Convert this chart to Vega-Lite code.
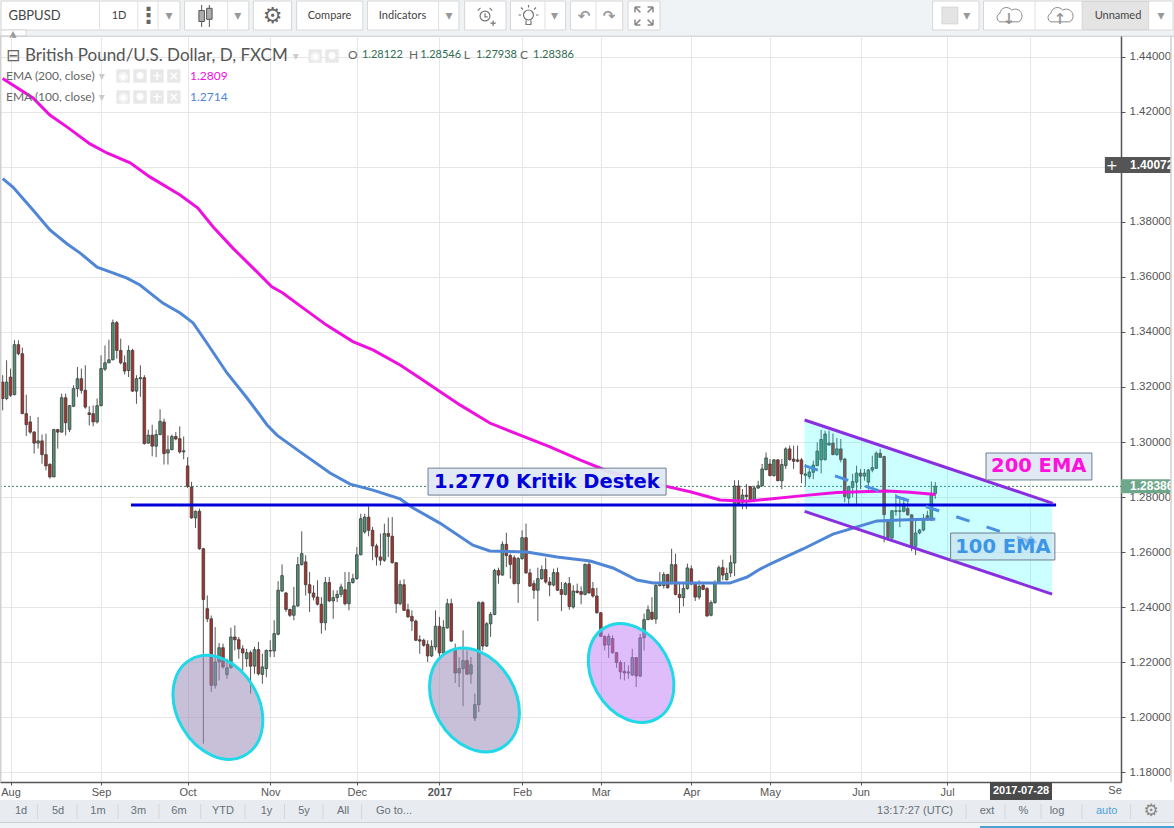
{"$schema":"https://vega.github.io/schema/vega-lite/v6.json","padding":{"left":-4,"top":0,"right":0,"bottom":0},"spacing":0,"bounds":"flush","background":"#ffffff","config":{"view":{"stroke":null},"concat":{"spacing":0},"text":{"font":"Liberation Sans"}},
"datasets":{
"candles":[
{"bar":0,"o":1.3218,"h":1.3243,"l":1.3115,"c":1.3158},{"bar":1,"o":1.3158,"h":1.3297,"l":1.3152,"c":1.3218},{"bar":2,"o":1.3236,"h":1.3267,"l":1.3164,"c":1.317},{"bar":3,"o":1.3172,"h":1.337,"l":1.317,"c":1.3354},{"bar":4,"o":1.3354,"h":1.337,"l":1.3315,"c":1.3321},{"bar":5,"o":1.3321,"h":1.3343,"l":1.3103,"c":1.3103},{"bar":6,"o":1.3103,"h":1.3172,"l":1.3022,"c":1.3063},{"bar":7,"o":1.3073,"h":1.3095,"l":1.303,"c":1.3036},{"bar":8,"o":1.3036,"h":1.304,"l":1.2958,"c":1.2996},{"bar":9,"o":1.2996,"h":1.3091,"l":1.2976,"c":1.3004},
{"bar":10,"o":1.3004,"h":1.3027,"l":1.2921,"c":1.2954},{"bar":11,"o":1.2954,"h":1.303,"l":1.2897,"c":1.2913},{"bar":12,"o":1.2919,"h":1.2922,"l":1.2867,"c":1.2873},{"bar":13,"o":1.2873,"h":1.3048,"l":1.2873,"c":1.3045},{"bar":14,"o":1.3045,"h":1.3048,"l":1.2976,"c":1.3036},{"bar":15,"o":1.3036,"h":1.3176,"l":1.3034,"c":1.3161},{"bar":16,"o":1.3161,"h":1.3176,"l":1.3024,"c":1.307},{"bar":17,"o":1.3046,"h":1.3135,"l":1.3036,"c":1.3132},{"bar":18,"o":1.313,"h":1.3206,"l":1.3127,"c":1.3194},{"bar":19,"o":1.3194,"h":1.3273,"l":1.3164,"c":1.323},
{"bar":20,"o":1.323,"h":1.3267,"l":1.3176,"c":1.3188},{"bar":21,"o":1.3188,"h":1.3279,"l":1.3121,"c":1.3127},{"bar":22,"o":1.3106,"h":1.313,"l":1.306,"c":1.31},{"bar":23,"o":1.3103,"h":1.3133,"l":1.3057,"c":1.3073},{"bar":24,"o":1.3073,"h":1.3158,"l":1.3067,"c":1.3132},{"bar":25,"o":1.3132,"h":1.3315,"l":1.313,"c":1.3267},{"bar":26,"o":1.3265,"h":1.3351,"l":1.3258,"c":1.3288},{"bar":27,"o":1.3288,"h":1.3372,"l":1.3287,"c":1.3299},{"bar":28,"o":1.3299,"h":1.3445,"l":1.3297,"c":1.3434},{"bar":29,"o":1.3434,"h":1.344,"l":1.3303,"c":1.3333},
{"bar":30,"o":1.3333,"h":1.3376,"l":1.3282,"c":1.3288},{"bar":31,"o":1.3288,"h":1.3315,"l":1.3246,"c":1.3258},{"bar":32,"o":1.326,"h":1.3351,"l":1.3236,"c":1.3333},{"bar":33,"o":1.3333,"h":1.3339,"l":1.3182,"c":1.3185},{"bar":34,"o":1.3185,"h":1.3243,"l":1.3139,"c":1.323},{"bar":35,"o":1.323,"h":1.3279,"l":1.3164,"c":1.3234},{"bar":36,"o":1.3234,"h":1.3243,"l":1.2991,"c":1.2994},{"bar":37,"o":1.2996,"h":1.3045,"l":1.2994,"c":1.3025},{"bar":38,"o":1.3025,"h":1.3063,"l":1.2948,"c":1.2985},{"bar":39,"o":1.2985,"h":1.3045,"l":1.2945,"c":1.3027},
{"bar":40,"o":1.3027,"h":1.3119,"l":1.3024,"c":1.3075},{"bar":41,"o":1.3073,"h":1.3085,"l":1.2918,"c":1.2958},{"bar":42,"o":1.296,"h":1.3024,"l":1.2918,"c":1.2972},{"bar":43,"o":1.2972,"h":1.3027,"l":1.297,"c":1.302},{"bar":44,"o":1.302,"h":1.3036,"l":1.3006,"c":1.3011},{"bar":45,"o":1.3012,"h":1.3057,"l":1.2958,"c":1.2964},{"bar":46,"o":1.2964,"h":1.302,"l":1.2937,"c":1.2968},{"bar":47,"o":1.2913,"h":1.2945,"l":1.2833,"c":1.2839},{"bar":48,"o":1.2836,"h":1.2855,"l":1.2721,"c":1.2724},{"bar":49,"o":1.2724,"h":1.2751,"l":1.2687,"c":1.2748},
{"bar":50,"o":1.2748,"h":1.2758,"l":1.2608,"c":1.2612},{"bar":51,"o":1.2612,"h":1.2615,"l":1.1903,"c":1.2427},{"bar":52,"o":1.2394,"h":1.2442,"l":1.2345,"c":1.2357},{"bar":53,"o":1.2357,"h":1.2369,"l":1.2091,"c":1.2115},{"bar":54,"o":1.2115,"h":1.2327,"l":1.2103,"c":1.22},{"bar":55,"o":1.22,"h":1.2269,"l":1.2133,"c":1.2252},{"bar":56,"o":1.2252,"h":1.2267,"l":1.2176,"c":1.2182},{"bar":57,"o":1.2154,"h":1.2212,"l":1.2139,"c":1.2179},{"bar":58,"o":1.2179,"h":1.2325,"l":1.2176,"c":1.2291},{"bar":59,"o":1.2291,"h":1.2333,"l":1.2242,"c":1.2281},
{"bar":60,"o":1.2281,"h":1.2291,"l":1.2212,"c":1.2248},{"bar":61,"o":1.2248,"h":1.2261,"l":1.217,"c":1.2233},{"bar":62,"o":1.2212,"h":1.2248,"l":1.2182,"c":1.2234},{"bar":63,"o":1.2234,"h":1.2242,"l":1.2085,"c":1.2185},{"bar":64,"o":1.2185,"h":1.2255,"l":1.2157,"c":1.2245},{"bar":65,"o":1.2245,"h":1.2273,"l":1.2151,"c":1.2157},{"bar":66,"o":1.2155,"h":1.223,"l":1.2121,"c":1.2182},{"bar":67,"o":1.2176,"h":1.2245,"l":1.2145,"c":1.2242},{"bar":68,"o":1.224,"h":1.2279,"l":1.2218,"c":1.2242},{"bar":69,"o":1.224,"h":1.2352,"l":1.2218,"c":1.2303},
{"bar":70,"o":1.2301,"h":1.2494,"l":1.2297,"c":1.2461},{"bar":71,"o":1.2458,"h":1.2555,"l":1.2455,"c":1.2514},{"bar":72,"o":1.2451,"h":1.2455,"l":1.2382,"c":1.2391},{"bar":73,"o":1.2391,"h":1.2394,"l":1.2364,"c":1.237},{"bar":74,"o":1.237,"h":1.2473,"l":1.2352,"c":1.2404},{"bar":75,"o":1.2404,"h":1.2582,"l":1.24,"c":1.2554},{"bar":76,"o":1.2554,"h":1.2675,"l":1.2551,"c":1.2594},{"bar":77,"o":1.2564,"h":1.2588,"l":1.2442,"c":1.2481},{"bar":78,"o":1.2481,"h":1.2527,"l":1.2382,"c":1.2451},{"bar":79,"o":1.2451,"h":1.2479,"l":1.2424,"c":1.2436},
{"bar":80,"o":1.2436,"h":1.2497,"l":1.2406,"c":1.241},{"bar":81,"o":1.241,"h":1.2436,"l":1.2303,"c":1.2343},{"bar":82,"o":1.2343,"h":1.2509,"l":1.2315,"c":1.2489},{"bar":83,"o":1.2489,"h":1.2509,"l":1.2418,"c":1.2422},{"bar":84,"o":1.2422,"h":1.2461,"l":1.2357,"c":1.2434},{"bar":85,"o":1.2434,"h":1.2461,"l":1.2418,"c":1.2446},{"bar":86,"o":1.2446,"h":1.2485,"l":1.2436,"c":1.2473},{"bar":87,"o":1.2463,"h":1.2527,"l":1.2406,"c":1.2412},{"bar":88,"o":1.2412,"h":1.2527,"l":1.2388,"c":1.2489},{"bar":89,"o":1.2489,"h":1.2521,"l":1.2485,"c":1.2503},
{"bar":90,"o":1.2503,"h":1.2618,"l":1.2499,"c":1.259},{"bar":91,"o":1.259,"h":1.2739,"l":1.2588,"c":1.2721},{"bar":92,"o":1.2673,"h":1.2739,"l":1.2667,"c":1.2727},{"bar":93,"o":1.2727,"h":1.2766,"l":1.2657,"c":1.2679},{"bar":94,"o":1.2679,"h":1.2691,"l":1.257,"c":1.2622},{"bar":95,"o":1.2622,"h":1.263,"l":1.2551,"c":1.2582},{"bar":96,"o":1.2582,"h":1.2667,"l":1.2551,"c":1.257},{"bar":97,"o":1.257,"h":1.2703,"l":1.2564,"c":1.2667},{"bar":98,"o":1.2667,"h":1.2725,"l":1.2582,"c":1.2657},{"bar":99,"o":1.2657,"h":1.2727,"l":1.2558,"c":1.2561},
{"bar":100,"o":1.2561,"h":1.2564,"l":1.2378,"c":1.2412},{"bar":101,"o":1.2412,"h":1.2497,"l":1.2406,"c":1.2482},{"bar":102,"o":1.2481,"h":1.2501,"l":1.2385,"c":1.2388},{"bar":103,"o":1.239,"h":1.2412,"l":1.2361,"c":1.2364},{"bar":104,"o":1.2366,"h":1.2388,"l":1.2313,"c":1.2349},{"bar":105,"o":1.2349,"h":1.2354,"l":1.2276,"c":1.2279},{"bar":106,"o":1.2281,"h":1.2297,"l":1.223,"c":1.2276},{"bar":107,"o":1.2279,"h":1.2285,"l":1.2255,"c":1.2261},{"bar":108,"o":1.2264,"h":1.2279,"l":1.22,"c":1.2222},{"bar":109,"o":1.2222,"h":1.2279,"l":1.2218,"c":1.2257},
{"bar":110,"o":1.2255,"h":1.2388,"l":1.2242,"c":1.233},{"bar":111,"o":1.233,"h":1.2364,"l":1.2218,"c":1.2233},{"bar":112,"o":1.2233,"h":1.2352,"l":1.223,"c":1.2326},{"bar":113,"o":1.2324,"h":1.243,"l":1.2321,"c":1.2412},{"bar":114,"o":1.2412,"h":1.243,"l":1.2273,"c":1.2276},{"bar":115,"o":1.2248,"h":1.2267,"l":1.2124,"c":1.216},{"bar":116,"o":1.216,"h":1.2218,"l":1.2109,"c":1.2176},{"bar":117,"o":1.2176,"h":1.2315,"l":1.2039,"c":1.2205},{"bar":118,"o":1.2205,"h":1.2242,"l":1.2152,"c":1.2156},{"bar":119,"o":1.2156,"h":1.2218,"l":1.2121,"c":1.219},
{"bar":120,"o":1.1996,"h":1.2085,"l":1.1985,"c":1.2045},{"bar":121,"o":1.2045,"h":1.2421,"l":1.2018,"c":1.2416},{"bar":122,"o":1.2416,"h":1.2421,"l":1.2242,"c":1.2258},{"bar":123,"o":1.2258,"h":1.2345,"l":1.2255,"c":1.2339},{"bar":124,"o":1.2339,"h":1.2382,"l":1.2291,"c":1.2373},{"bar":125,"o":1.2373,"h":1.2539,"l":1.237,"c":1.2533},{"bar":126,"o":1.2533,"h":1.2543,"l":1.2485,"c":1.2516},{"bar":127,"o":1.2516,"h":1.2639,"l":1.2515,"c":1.2628},{"bar":128,"o":1.2628,"h":1.267,"l":1.2545,"c":1.2587},{"bar":129,"o":1.2587,"h":1.2594,"l":1.2503,"c":1.2555},
{"bar":130,"o":1.2579,"h":1.2588,"l":1.2482,"c":1.2485},{"bar":131,"o":1.2485,"h":1.2582,"l":1.2415,"c":1.2576},{"bar":132,"o":1.2576,"h":1.2679,"l":1.2572,"c":1.2652},{"bar":133,"o":1.2652,"h":1.2703,"l":1.2521,"c":1.2524},{"bar":134,"o":1.2524,"h":1.2539,"l":1.2473,"c":1.2476},{"bar":135,"o":1.2485,"h":1.2497,"l":1.243,"c":1.2461},{"bar":136,"o":1.2461,"h":1.2543,"l":1.2349,"c":1.2503},{"bar":137,"o":1.2503,"h":1.2551,"l":1.2499,"c":1.2536},{"bar":138,"o":1.2536,"h":1.2579,"l":1.2485,"c":1.2491},{"bar":139,"o":1.2491,"h":1.2509,"l":1.2439,"c":1.248},
{"bar":140,"o":1.248,"h":1.2539,"l":1.2475,"c":1.2525},{"bar":141,"o":1.2525,"h":1.2543,"l":1.2458,"c":1.2461},{"bar":142,"o":1.2463,"h":1.2491,"l":1.2385,"c":1.2446},{"bar":143,"o":1.2446,"h":1.2491,"l":1.2442,"c":1.2485},{"bar":144,"o":1.2485,"h":1.2509,"l":1.239,"c":1.2402},{"bar":145,"o":1.24,"h":1.2479,"l":1.2394,"c":1.2458},{"bar":146,"o":1.2458,"h":1.2485,"l":1.2449,"c":1.2453},{"bar":147,"o":1.2456,"h":1.2475,"l":1.241,"c":1.2446},{"bar":148,"o":1.2446,"h":1.2558,"l":1.2442,"c":1.2555},{"bar":149,"o":1.2555,"h":1.257,"l":1.2449,"c":1.2451},
{"bar":150,"o":1.2467,"h":1.2491,"l":1.2434,"c":1.244},{"bar":151,"o":1.244,"h":1.247,"l":1.2376,"c":1.2379},{"bar":152,"o":1.2379,"h":1.2382,"l":1.2291,"c":1.2293},{"bar":153,"o":1.2293,"h":1.2297,"l":1.2242,"c":1.2261},{"bar":154,"o":1.2262,"h":1.2303,"l":1.2215,"c":1.2293},{"bar":155,"o":1.2285,"h":1.2297,"l":1.223,"c":1.2234},{"bar":156,"o":1.2234,"h":1.2236,"l":1.2179,"c":1.2198},{"bar":157,"o":1.2198,"h":1.2206,"l":1.2137,"c":1.2164},{"bar":158,"o":1.2166,"h":1.22,"l":1.2133,"c":1.216},{"bar":159,"o":1.216,"h":1.2188,"l":1.2139,"c":1.2164},
{"bar":160,"o":1.2153,"h":1.2248,"l":1.2149,"c":1.2216},{"bar":161,"o":1.2216,"h":1.2218,"l":1.2109,"c":1.2149},{"bar":162,"o":1.2149,"h":1.2303,"l":1.2145,"c":1.2288},{"bar":163,"o":1.2288,"h":1.2376,"l":1.2242,"c":1.2354},{"bar":164,"o":1.2354,"h":1.2406,"l":1.2352,"c":1.239},{"bar":165,"o":1.2381,"h":1.2436,"l":1.2352,"c":1.2356},{"bar":166,"o":1.2356,"h":1.2491,"l":1.2339,"c":1.2478},{"bar":167,"o":1.2478,"h":1.2527,"l":1.2475,"c":1.2481},{"bar":168,"o":1.2478,"h":1.2527,"l":1.2467,"c":1.2518},{"bar":169,"o":1.2518,"h":1.2521,"l":1.2467,"c":1.247},
{"bar":170,"o":1.2485,"h":1.2612,"l":1.2482,"c":1.2554},{"bar":171,"o":1.2554,"h":1.2594,"l":1.2442,"c":1.2446},{"bar":172,"o":1.2446,"h":1.2485,"l":1.2378,"c":1.2434},{"bar":173,"o":1.2434,"h":1.2485,"l":1.2402,"c":1.2467},{"bar":174,"o":1.2467,"h":1.2558,"l":1.2463,"c":1.2542},{"bar":175,"o":1.2539,"h":1.2551,"l":1.2479,"c":1.2484},{"bar":176,"o":1.2484,"h":1.2491,"l":1.2422,"c":1.2436},{"bar":177,"o":1.2436,"h":1.2497,"l":1.2427,"c":1.2475},{"bar":178,"o":1.2479,"h":1.2485,"l":1.2461,"c":1.2464},{"bar":179,"o":1.2467,"h":1.2473,"l":1.2366,"c":1.2367},
{"bar":180,"o":1.237,"h":1.2424,"l":1.2366,"c":1.2416},{"bar":181,"o":1.2416,"h":1.2497,"l":1.2412,"c":1.2488},{"bar":182,"o":1.2488,"h":1.2551,"l":1.2485,"c":1.2543},{"bar":183,"o":1.2543,"h":1.2572,"l":1.2497,"c":1.2516},{"bar":184,"o":1.2499,"h":1.2543,"l":1.2497,"c":1.2522},{"bar":185,"o":1.2524,"h":1.2588,"l":1.2509,"c":1.2561},{"bar":186,"o":1.256,"h":1.2861,"l":1.2512,"c":1.284},{"bar":187,"o":1.284,"h":1.2861,"l":1.2773,"c":1.2776},{"bar":188,"o":1.2781,"h":1.2829,"l":1.2756,"c":1.2807},{"bar":189,"o":1.2807,"h":1.2847,"l":1.2756,"c":1.2802},
{"bar":190,"o":1.2838,"h":1.284,"l":1.2784,"c":1.2787},{"bar":191,"o":1.2787,"h":1.2841,"l":1.2781,"c":1.2833},{"bar":192,"o":1.2833,"h":1.2859,"l":1.2829,"c":1.2841},{"bar":193,"o":1.2841,"h":1.292,"l":1.2839,"c":1.2902},{"bar":194,"o":1.2899,"h":1.2962,"l":1.2898,"c":1.2942},{"bar":195,"o":1.292,"h":1.2938,"l":1.2875,"c":1.2878},{"bar":196,"o":1.2878,"h":1.2938,"l":1.2874,"c":1.2935},{"bar":197,"o":1.2935,"h":1.2938,"l":1.2858,"c":1.2859},{"bar":198,"o":1.2859,"h":1.2938,"l":1.2829,"c":1.2918},{"bar":199,"o":1.2914,"h":1.2981,"l":1.2902,"c":1.2975},
{"bar":200,"o":1.2975,"h":1.2987,"l":1.2932,"c":1.2936},{"bar":201,"o":1.2938,"h":1.2987,"l":1.2902,"c":1.293},{"bar":202,"o":1.2935,"h":1.2987,"l":1.2926,"c":1.293},{"bar":203,"o":1.2935,"h":1.2942,"l":1.285,"c":1.2884},{"bar":204,"o":1.2879,"h":1.292,"l":1.2841,"c":1.2884},{"bar":205,"o":1.2874,"h":1.2902,"l":1.2865,"c":1.2891},{"bar":206,"o":1.289,"h":1.2932,"l":1.2865,"c":1.2916},{"bar":207,"o":1.2914,"h":1.2999,"l":1.2912,"c":1.2967},{"bar":208,"o":1.2935,"h":1.3044,"l":1.2886,"c":1.3009},{"bar":209,"o":1.2936,"h":1.3041,"l":1.2932,"c":1.3029},
{"bar":210,"o":1.2989,"h":1.3041,"l":1.2987,"c":1.2996},{"bar":211,"o":1.2996,"h":1.3031,"l":1.2952,"c":1.2954},{"bar":212,"o":1.2954,"h":1.3015,"l":1.295,"c":1.2975},{"bar":213,"o":1.2975,"h":1.3011,"l":1.2926,"c":1.2936},{"bar":214,"o":1.2938,"h":1.2942,"l":1.2781,"c":1.2802},{"bar":215,"o":1.2796,"h":1.2841,"l":1.2775,"c":1.2838},{"bar":216,"o":1.2835,"h":1.2884,"l":1.2799,"c":1.2856},{"bar":217,"o":1.2854,"h":1.2914,"l":1.2775,"c":1.2887},{"bar":218,"o":1.2887,"h":1.2902,"l":1.2829,"c":1.2876},{"bar":219,"o":1.2876,"h":1.2902,"l":1.2859,"c":1.2887},
{"bar":220,"o":1.2854,"h":1.2902,"l":1.2826,"c":1.2898},{"bar":221,"o":1.2898,"h":1.295,"l":1.289,"c":1.2907},{"bar":222,"o":1.2904,"h":1.2966,"l":1.2902,"c":1.2959},{"bar":223,"o":1.2959,"h":1.2975,"l":1.2942,"c":1.2944},{"bar":224,"o":1.2947,"h":1.295,"l":1.2635,"c":1.2736},{"bar":225,"o":1.271,"h":1.2714,"l":1.2641,"c":1.2653},{"bar":226,"o":1.2651,"h":1.2753,"l":1.2645,"c":1.275},{"bar":227,"o":1.275,"h":1.2811,"l":1.2732,"c":1.2748},{"bar":228,"o":1.275,"h":1.2799,"l":1.269,"c":1.2748},{"bar":229,"o":1.2748,"h":1.2799,"l":1.2744,"c":1.2775},
{"bar":230,"o":1.2758,"h":1.2781,"l":1.2732,"c":1.2735},{"bar":231,"o":1.2735,"h":1.2738,"l":1.2603,"c":1.2621},{"bar":232,"o":1.2621,"h":1.2714,"l":1.2589,"c":1.2669},{"bar":233,"o":1.2669,"h":1.2684,"l":1.2665,"c":1.268},{"bar":234,"o":1.268,"h":1.2738,"l":1.2675,"c":1.2717},{"bar":235,"o":1.2732,"h":1.275,"l":1.2714,"c":1.2717},{"bar":236,"o":1.2717,"h":1.2856,"l":1.2712,"c":1.2808},{"bar":237,"o":1.28122,"h":1.28546,"l":1.27938,"c":1.28386}
],
"ema200":[{"bar":0,"price":1.4322},{"bar":7.7,"price":1.4251},{"bar":12,"price":1.4189},{"bar":16.4,"price":1.4145},{"bar":22.2,"price":1.4084},{"bar":26.5,"price":1.4051},{"bar":32.4,"price":1.4015},{"bar":37.4,"price":1.3964},{"bar":45.1,"price":1.3898},{"bar":49.6,"price":1.3851},{"bar":53.5,"price":1.3782},{"bar":58.5,"price":1.3705},{"bar":63.6,"price":1.3633},{"bar":68.4,"price":1.3564},{"bar":71.2,"price":1.3542},{"bar":75.6,"price":1.3495},{"bar":82.3,"price":1.3425},{"bar":89,"price":1.3365},{"bar":94.1,"price":1.3335},{"bar":101,"price":1.328},{"bar":106,"price":1.3233},{"bar":116.2,"price":1.3135},{"bar":123.8,"price":1.3069},{"bar":131.5,"price":1.3025},{"bar":139.1,"price":1.2982},{"bar":146.7,"price":1.2935},{"bar":154.3,"price":1.2891},{"bar":162,"price":1.2865},{"bar":167,"price":1.2844},{"bar":174.7,"price":1.2819},{"bar":182.3,"price":1.2789},{"bar":189.1,"price":1.2785},{"bar":195,"price":1.2793},{"bar":203.4,"price":1.2805},{"bar":212,"price":1.2816},{"bar":217.9,"price":1.2819},{"bar":224.7,"price":1.2822},{"bar":230.6,"price":1.2817},{"bar":236.4,"price":1.281},{"bar":237,"price":1.2809}],
"ema100":[{"bar":0,"price":1.3958},{"bar":2.6,"price":1.3927},{"bar":7.7,"price":1.3844},{"bar":12,"price":1.3771},{"bar":16.4,"price":1.372},{"bar":19.7,"price":1.3687},{"bar":24,"price":1.3636},{"bar":28,"price":1.3615},{"bar":31.6,"price":1.3596},{"bar":34.9,"price":1.3571},{"bar":40.7,"price":1.3505},{"bar":45.1,"price":1.3469},{"bar":48.4,"price":1.3433},{"bar":51.9,"price":1.336},{"bar":57,"price":1.3251},{"bar":62.1,"price":1.316},{"bar":67.2,"price":1.3062},{"bar":69.7,"price":1.3025},{"bar":75.6,"price":1.2964},{"bar":83.2,"price":1.2887},{"bar":88.3,"price":1.2847},{"bar":94.1,"price":1.2825},{"bar":101,"price":1.2793},{"bar":104.3,"price":1.276},{"bar":111.1,"price":1.2705},{"bar":119.5,"price":1.2625},{"bar":123.8,"price":1.2604},{"bar":133.2,"price":1.26},{"bar":140.9,"price":1.2582},{"bar":149.3,"price":1.2567},{"bar":155.1,"price":1.2542},{"bar":161.2,"price":1.2498},{"bar":165.3,"price":1.2487},{"bar":174,"price":1.2487},{"bar":184.8,"price":1.2487},{"bar":189.2,"price":1.2509},{"bar":192.5,"price":1.2538},{"bar":195,"price":1.2556},{"bar":203.4,"price":1.2611},{"bar":211,"price":1.2665},{"bar":216.1,"price":1.2687},{"bar":222.2,"price":1.2713},{"bar":228,"price":1.2716},{"bar":236.4,"price":1.272},{"bar":237,"price":1.2719}]
},
"vconcat":[
{"width":1174,"height":36,
"encoding":{"x":{"field":"x","type":"quantitative","scale":{"domain":[0,1174],"nice":false,"zero":false},"axis":null},"y":{"field":"y","type":"quantitative","scale":{"domain":[0,36],"reverse":true,"nice":false,"zero":false},"axis":null}},
"layer":[
{"data":{"values":[{"x":0,"x2":1174,"y":0,"y2":36}]},"mark":{"type":"rect","fill":"#f0f3f6"},"encoding":{"x2":{"field":"x2"},"y2":{"field":"y2"}}},
{"data":{"values":[{"x":1,"x2":180,"y":1,"y2":30},{"x":184.5,"x2":248.8,"y":1,"y2":30},{"x":253.3,"x2":291.6,"y":1,"y2":30},{"x":296.6,"x2":362.8,"y":1,"y2":30},{"x":367.4,"x2":459,"y":1,"y2":30},{"x":464.6,"x2":506,"y":1,"y2":30},{"x":510.5,"x2":565.6,"y":1,"y2":30},{"x":570.6,"x2":622.7,"y":1,"y2":30},{"x":628,"x2":660,"y":1,"y2":30},{"x":932.6,"x2":979,"y":1,"y2":30},{"x":983.5,"x2":1173,"y":1,"y2":30},{"x":1,"x2":26,"y":30,"y2":36}]},"mark":{"type":"rect","fill":"#ffffff","stroke":"#d6d6d6","strokeWidth":1},"encoding":{"x2":{"field":"x2"},"y2":{"field":"y2"}}},
{"data":{"values":[{"x":1082,"x2":1148.7,"y":1.5,"y2":29.5},{"x":941.8,"x2":958,"y":7,"y2":24}]},"mark":{"type":"rect","fill":"#e4e4e4","stroke":"#c4c4c4","strokeWidth":0.5},"encoding":{"x2":{"field":"x2"},"y2":{"field":"y2"}}},
{"data":{"values":[{"x":99.5,"y":1,"y2":30},{"x":137.8,"y":1,"y2":30},{"x":158,"y":1,"y2":30},{"x":227.7,"y":1,"y2":30},{"x":438.6,"y":1,"y2":30},{"x":545,"y":1,"y2":30},{"x":596,"y":1,"y2":30},{"x":1035,"y":1,"y2":30}]},"mark":{"type":"rule","stroke":"#e0e0e0","strokeWidth":1},"encoding":{"y2":{"field":"y2"}}},
{"data":{"values":[{"x":0,"x2":1174,"y":36.2}]},"mark":{"type":"rule","stroke":"#c8c8c8","strokeWidth":1},"encoding":{"x2":{"field":"x2"}}},
{"data":{"values":[{"x":8.4,"y":16,"t":"GBPUSD"}]},"mark":{"type":"text","align":"left","baseline":"middle","font":"Lato","fontSize":13,"fill":"#444444"},"encoding":{"text":{"field":"t"}}},
{"data":{"values":[{"x":119,"y":16,"t":"1D"},{"x":329.5,"y":16,"t":"Compare"},{"x":402.6,"y":16,"t":"Indicators"},{"x":1118,"y":16,"t":"Unnamed"}]},"mark":{"type":"text","align":"center","baseline":"middle","font":"Lato","fontSize":11,"fill":"#444444"},"encoding":{"text":{"field":"t"}}},
{"data":{"values":[{"x":169,"y":16,"t":"▾"},{"x":237.7,"y":16,"t":"▾"},{"x":449,"y":16,"t":"▾"},{"x":554.5,"y":16,"t":"▾"},{"x":966.7,"y":16,"t":"▾"},{"x":1161,"y":16,"t":"▾"},{"x":13,"y":33.5,"t":"▴"}]},"mark":{"type":"text","align":"center","baseline":"middle","font":"DejaVu Sans","fontSize":14,"fill":"#999999"},"encoding":{"text":{"field":"t"}}},
{"data":{"values":[{"x":148.5,"y":16,"t":"⋮"},{"x":272.5,"y":16,"t":"⚙"}]},"mark":{"type":"text","align":"center","baseline":"middle","font":"DejaVu Sans","fontSize":22,"fontWeight":"bold","fill":"#666666"},"encoding":{"text":{"field":"t"}}},
{"data":{"values":[{"x":584,"y":16,"t":"↶"},{"x":609,"y":16,"t":"↷"},{"x":1009,"y":19,"t":"↓"},{"x":1060,"y":19,"t":"↑"}]},"mark":{"type":"text","align":"center","baseline":"middle","font":"DejaVu Sans","fontSize":15,"fontWeight":"bold","fill":"#999999"},"encoding":{"text":{"field":"t"}}},
{"data":{"values":[{"x":205.5,"y":16}]},"mark":{"type":"point","opacity":1,"shape":"M-0.6,-0.5H-0.1V0.5H-0.6Z M-0.35,-1V-0.5 M-0.35,0.5V1 M0.1,-0.7H0.6V0.3H0.1Z M0.35,-1V-0.7 M0.35,0.3V1","size":484,"fill":"#777777","fillOpacity":0.6,"stroke":"#555555","strokeWidth":1}},
{"data":{"values":[{"x":485,"y":16}]},"mark":{"type":"point","opacity":1,"shape":"M0.55,0 A0.55,0.55 0 1,1 -0.55,0 A0.55,0.55 0 1,1 0.55,0 Z M-0.8,-0.6L-0.5,-0.9 M0.5,-0.9L0.8,-0.6 M0,-0.3V0.1H0.3 M0.6,0.8H1.2 M0.9,0.5V1.1","size":324,"fill":"none","stroke":"#777777","strokeWidth":1.2}},
{"data":{"values":[{"x":528.5,"y":15}]},"mark":{"type":"point","opacity":1,"shape":"M0.5,0 A0.5,0.5 0 1,1 -0.5,0 A0.5,0.5 0 1,1 0.5,0 Z M-0.25,0.55V0.95H0.25V0.55 M0,-0.75V-1 M-0.75,0H-1 M0.75,0H1 M-0.55,-0.55L-0.75,-0.75 M0.55,-0.55L0.75,-0.75","size":400,"fill":"none","stroke":"#777777","strokeWidth":1.2}},
{"data":{"values":[{"x":644,"y":16}]},"mark":{"type":"point","opacity":1,"shape":"M-1,-1H-0.4M-1,-1V-0.4M-1,-1L-0.4,-0.4 M1,-1H0.4M1,-1V-0.4M1,-1L0.4,-0.4 M-1,1H-0.4M-1,1V0.4M-1,1L-0.4,0.4 M1,1H0.4M1,1V0.4M1,1L0.4,0.4","size":324,"fill":"none","stroke":"#888888","strokeWidth":1.5}},
{"data":{"values":[{"x":1009,"y":16},{"x":1060,"y":16}]},"mark":{"type":"point","opacity":1,"shape":"M-0.7,0.45 A0.35,0.35 0 0,1 -0.7,-0.2 A0.5,0.5 0 0,1 0.2,-0.45 A0.4,0.4 0 0,1 0.75,0.45 Z","size":676,"fill":"none","stroke":"#888888","strokeWidth":1}}
]},
{"width":1121,"height":746,
"encoding":{"x":{"field":"bar","type":"quantitative","scale":{"domain":[-0.678,284.2],"nice":false,"zero":false,"padding":0},
"axis":{"title":null,"orient":"bottom","values":[2,25,47,68,90,111,132,152,175,195,218,240,261],"labelExpr":"{'2':'Aug','25':'Sep','47':'Oct','68':'Nov','90':'Dec','111':'2017','132':'Feb','152':'Mar','175':'Apr','195':'May','218':'Jun','240':'Jul','261':''}[''+datum.value]","labelFontWeight":{"condition":{"test":"datum.value==111","value":"bold"},"value":"normal"},"grid":true,"gridColor":"#e6e6e6","domainColor":"#555555","domainWidth":1.5,"tickColor":"#555555","tickSize":3,"labelColor":"#555555","labelFont":"Liberation Sans","labelFontSize":11,"labelPadding":1,"labelOverlap":false,"labelFlush":false}},
"y":{"field":"price","type":"quantitative","scale":{"domain":[1.176364,1.447636],"nice":false,"zero":false},
"axis":{"title":null,"orient":"right","values":[1.18,1.2,1.22,1.24,1.26,1.28,1.3,1.32,1.34,1.36,1.38,1.4,1.42,1.44],"format":".5f","grid":true,"gridColor":"#e6e6e6","domainColor":"#555555","domainWidth":1.5,"tickColor":"#555555","tickSize":4,"labelColor":"#555555","labelFont":"Liberation Sans","labelFontSize":11.5,"labelPadding":4,"labelOverlap":false,"labelFlush":false}}},
"layer":[
{"data":{"values":[{"bar":-0.678,"bar2":284.2,"price":1.28386}]},"mark":{"type":"rule","stroke":"#3f7f5f","strokeWidth":1,"strokeDash":[2,2]},"encoding":{"x2":{"field":"bar2"}}},
{"data":{"name":"candles"},"mark":{"type":"rule","stroke":"#555555","strokeWidth":1},"encoding":{"y":{"field":"l","type":"quantitative","scale":{"domain":[1.176364,1.447636],"nice":false,"zero":false},"axis":{"title":null,"orient":"right","values":[1.18,1.2,1.22,1.24,1.26,1.28,1.3,1.32,1.34,1.36,1.38,1.4,1.42,1.44],"format":".5f","grid":true,"gridColor":"#e6e6e6","domainColor":"#555555","domainWidth":1.5,"tickColor":"#555555","tickSize":4,"labelColor":"#555555","labelFont":"Liberation Sans","labelFontSize":11.5,"labelPadding":4,"labelOverlap":false,"labelFlush":false}},"y2":{"field":"h"}}},
{"data":{"name":"candles"},"mark":{"type":"bar","width":2.6,"stroke":"#3c3c3c","strokeWidth":0.8},"encoding":{"y":{"field":"o","type":"quantitative","scale":{"domain":[1.176364,1.447636],"nice":false,"zero":false},"axis":{"title":null,"orient":"right","values":[1.18,1.2,1.22,1.24,1.26,1.28,1.3,1.32,1.34,1.36,1.38,1.4,1.42,1.44],"format":".5f","grid":true,"gridColor":"#e6e6e6","domainColor":"#555555","domainWidth":1.5,"tickColor":"#555555","tickSize":4,"labelColor":"#555555","labelFont":"Liberation Sans","labelFontSize":11.5,"labelPadding":4,"labelOverlap":false,"labelFlush":false}},"y2":{"field":"c"},"fill":{"condition":{"test":"datum.c>=datum.o","value":"#4f9272"},"value":"#a8322b"}}},
{"data":{"values":[{"bar":203.8,"price":1.308,"price2":1.2748},{"bar":266.7,"price":1.2777,"price2":1.2447}]},"mark":{"type":"area","orient":"vertical","fill":"#00ffff","opacity":0.2},"encoding":{"y2":{"field":"price2"}}},
{"data":{"name":"ema200"},"mark":{"type":"line","stroke":"#ee11dd","strokeWidth":3}},
{"data":{"name":"ema100"},"mark":{"type":"line","stroke":"#4f86d6","strokeWidth":3}},
{"data":{"values":[{"bar":32.6,"price":1.2771},{"bar":267.7,"price":1.2771}]},"mark":{"type":"line","stroke":"#0000d8","strokeWidth":3}},
{"data":{"values":[{"bar":203.8,"price":1.2914},{"bar":262.3,"price":1.2632}]},"mark":{"type":"line","stroke":"#4a90e2","strokeWidth":3,"strokeDash":[14,18]}},
{"data":{"values":[{"bar":261.3,"price":1.2642}]},"mark":{"type":"point","opacity":1,"shape":"M-1,0.5L0,-0.5L1,0.5","size":100,"fill":"none","stroke":"#4a90e2","strokeWidth":3}},
{"data":{"values":[{"bar":203.8,"price":1.308},{"bar":266.9,"price":1.2777}]},"mark":{"type":"line","stroke":"#8a2fe0","strokeWidth":3}},
{"data":{"values":[{"bar":203.8,"price":1.2748},{"bar":266.7,"price":1.2447}]},"mark":{"type":"line","stroke":"#8a2fe0","strokeWidth":3}},
{"data":{"values":[{"bar":54.7,"price":1.2035},{"bar":119.9,"price":1.2062}]},"mark":{"type":"point","opacity":1,"shape":"M-0.745,0A0.745,1 0 1,1 0.745,0A0.745,1 0 1,1 -0.745,0Z","size":12100,"angle":330,"fill":"#9a8cb8","fillOpacity":0.55,"stroke":"#1fd8e8","strokeWidth":3}},
{"data":{"values":[{"bar":159.7,"price":1.216}]},"mark":{"type":"point","opacity":1,"shape":"M-0.745,0A0.745,1 0 1,1 0.745,0A0.745,1 0 1,1 -0.745,0Z","size":11000,"angle":330,"fill":"#c07af5","fillOpacity":0.5,"stroke":"#1fd8e8","strokeWidth":3}},
{"data":{"values":[{"bar":108.1,"bar2":168.6,"price":1.2905,"price2":1.2807},{"bar":249.9,"bar2":276.8,"price":1.296,"price2":1.2862}]},"mark":{"type":"rect","fill":"#dfe8f3","fillOpacity":0.95,"stroke":"#6d7f8f","strokeWidth":1},"encoding":{"x2":{"field":"bar2"},"y2":{"field":"price2"}}},
{"data":{"values":[{"bar":240.9,"bar2":267.4,"price":1.2669,"price2":1.2571}]},"mark":{"type":"rect","fill":"#c8dcec","fillOpacity":0.6,"stroke":"#6d7f8f","strokeWidth":1},"encoding":{"x2":{"field":"bar2"},"y2":{"field":"price2"}}},
{"data":{"values":[{"bar":138.3,"price":1.2856,"t":"1.2770 Kritik Destek"}]},"mark":{"type":"text","font":"DejaVu Sans","fontWeight":"bold","fontSize":19.5,"fill":"#0000d8","align":"center","baseline":"middle"},"encoding":{"text":{"field":"t"}}},
{"data":{"values":[{"bar":263.3,"price":1.2911,"t":"200 EMA"}]},"mark":{"type":"text","font":"DejaVu Sans","fontWeight":"bold","fontSize":19.5,"fill":"#ff11dd","align":"center","baseline":"middle"},"encoding":{"text":{"field":"t"}}},
{"data":{"values":[{"bar":254.2,"price":1.262,"t":"100 EMA"}]},"mark":{"type":"text","font":"DejaVu Sans","fontWeight":"bold","fontSize":19.5,"fill":"#3c96e6","align":"center","baseline":"middle"},"encoding":{"text":{"field":"t"}}},
{"data":{"values":[{"bar":5.68,"price":1.44036,"t":"British Pound/U.S. Dollar, D, FXCM"}]},"mark":{"type":"text","font":"Lato","fontSize":17,"fill":"#555555","align":"left","baseline":"middle"},"encoding":{"text":{"field":"t"}}},
{"data":{"values":[{"bar":2.63,"price":1.44036,"t":"⊟"}]},"mark":{"type":"text","font":"DejaVu Sans","fontSize":17,"fill":"#666666","align":"center","baseline":"middle"},"encoding":{"text":{"field":"t"}}},
{"data":{"values":[{"bar":74.5,"price":1.44036,"t":"▾"},{"bar":25.2,"price":1.4331,"t":"▾"},{"bar":25.2,"price":1.42545,"t":"▾"}]},"mark":{"type":"text","font":"DejaVu Sans","fontSize":12,"fill":"#cccccc","align":"center","baseline":"middle"},"encoding":{"text":{"field":"t"}}},
{"data":{"values":[{"bar":79.4,"price":1.44036},{"bar":83.7,"price":1.44036},{"bar":30.6,"price":1.4331},{"bar":34.9,"price":1.4331},{"bar":39.2,"price":1.4331},{"bar":43.5,"price":1.4331},{"bar":30.6,"price":1.42545},{"bar":34.9,"price":1.42545},{"bar":39.2,"price":1.42545},{"bar":43.5,"price":1.42545}]},"mark":{"type":"point","shape":"square","size":180,"filled":true,"fill":"#e8e8e8","opacity":1}},
{"data":{"values":[{"bar":79.4,"price":1.44036,"t":"◉"},{"bar":83.7,"price":1.44036,"t":"✹"},{"bar":30.6,"price":1.4331,"t":"◉"},{"bar":34.9,"price":1.4331,"t":"✹"},{"bar":39.2,"price":1.4331,"t":"+"},{"bar":43.5,"price":1.4331,"t":"×"},{"bar":30.6,"price":1.42545,"t":"◉"},{"bar":34.9,"price":1.42545,"t":"✹"},{"bar":39.2,"price":1.42545,"t":"+"},{"bar":43.5,"price":1.42545,"t":"×"}]},"mark":{"type":"text","font":"DejaVu Sans","fontSize":12,"fontWeight":"bold","fill":"#ffffff","align":"center","baseline":"middle"},"encoding":{"text":{"field":"t"}}},
{"data":{"values":[{"bar":0.85,"price":1.4331,"t":"EMA (200, close)"},{"bar":0.85,"price":1.42545,"t":"EMA (100, close)"},{"bar":87.75,"price":1.44073,"t":"O"},{"bar":103.26,"price":1.44073,"t":"H"},{"bar":117.2,"price":1.44073,"t":"L"},{"bar":131.5,"price":1.44073,"t":"C"}]},"mark":{"type":"text","font":"Lato","fontSize":12,"fill":"#666666","align":"left","baseline":"middle"},"encoding":{"text":{"field":"t"}}},
{"data":{"values":[{"bar":91.3,"price":1.44073,"t":"1.28122"},{"bar":106.1,"price":1.44073,"t":"1.28546"},{"bar":120.3,"price":1.44073,"t":"1.27938"},{"bar":134.8,"price":1.44073,"t":"1.28386"}]},"mark":{"type":"text","font":"Lato","fontSize":11,"fill":"#2f6b50","align":"left","baseline":"middle"},"encoding":{"text":{"field":"t"}}},
{"data":{"values":[{"bar":47.6,"price":1.4331,"t":"1.2809"}]},"mark":{"type":"text","font":"Lato","fontSize":12,"fill":"#ee11dd","align":"left","baseline":"middle"},"encoding":{"text":{"field":"t"}}},
{"data":{"values":[{"bar":47.6,"price":1.42545,"t":"1.2714"}]},"mark":{"type":"text","font":"Lato","fontSize":12,"fill":"#4f86d6","align":"left","baseline":"middle"},"encoding":{"text":{"field":"t"}}},
{"data":{"values":[{"bar":280.1,"bar2":296.9,"price":1.4036,"price2":1.3978}]},"mark":{"type":"rect","fill":"#555555"},"encoding":{"x2":{"field":"bar2"},"y2":{"field":"price2"}}},
{"data":{"values":[{"bar":284.2,"bar2":296.9,"price":1.28642,"price2":1.28134}]},"mark":{"type":"rect","fill":"#6fa78a"},"encoding":{"x2":{"field":"bar2"},"y2":{"field":"price2"}}},
{"data":{"values":[{"bar":281.9,"price":1.4005,"t":"+"}]},"mark":{"type":"text","font":"DejaVu Sans","fontSize":14,"fill":"#ffffff","align":"center","baseline":"middle"},"encoding":{"text":{"field":"t"}}},
{"data":{"values":[{"bar":286.5,"price":1.40072,"t":"1.40072"},{"bar":286.5,"price":1.28386,"t":"1.28386"}]},"mark":{"type":"text","font":"Liberation Sans","fontSize":12,"fontWeight":"bold","fill":"#ffffff","align":"left","baseline":"middle"},"encoding":{"text":{"field":"t"}}},
{"data":{"values":[{"bar":250.9,"bar2":266.67,"price":1.17636,"price2":1.1698}]},"mark":{"type":"rect","fill":"#4a4a4a"},"encoding":{"x2":{"field":"bar2"},"y2":{"field":"price2"}}},
{"data":{"values":[{"bar":258.8,"price":1.1731,"t":"2017-07-28"}]},"mark":{"type":"text","font":"Liberation Sans","fontSize":11,"fontWeight":"bold","fill":"#ffffff","align":"center","baseline":"middle"},"encoding":{"text":{"field":"t"}}},
{"data":{"values":[{"bar":282.7,"price":1.1731,"t":"Se"}]},"mark":{"type":"text","font":"Liberation Sans","fontSize":11,"fill":"#555555","align":"center","baseline":"middle"},"encoding":{"text":{"field":"t"}}},
{"data":{"values":[{"bar":-0.5,"price":1.4476,"price2":1.1764},{"bar":296.9,"price":1.4476,"price2":1.1764}]},"mark":{"type":"rule","stroke":"#d0d0d0","strokeWidth":1.5},"encoding":{"y2":{"field":"price2"}}}
]},
{"width":1174,"height":46,
"encoding":{"x":{"field":"x","type":"quantitative","scale":{"domain":[0,1174],"nice":false,"zero":false},"axis":null},"y":{"field":"y","type":"quantitative","scale":{"domain":[782,828],"reverse":true,"nice":false,"zero":false},"axis":null}},
"layer":[
{"data":{"values":[{"x":0,"x2":1174,"y":800,"y2":822}]},"mark":{"type":"rect","fill":"#e8ebef"},"encoding":{"x2":{"field":"x2"},"y2":{"field":"y2"}}},
{"data":{"values":[{"x":0,"x2":1174,"y":822,"y2":828}]},"mark":{"type":"rect","fill":"#f0f3f6"},"encoding":{"x2":{"field":"x2"},"y2":{"field":"y2"}}},
{"data":{"values":[{"x":980,"x2":1174,"y":826,"y2":828}]},"mark":{"type":"rect","fill":"#4aa0d0"},"encoding":{"x2":{"field":"x2"},"y2":{"field":"y2"}}},
{"data":{"values":[{"x":0,"x2":1174,"y":822.5}]},"mark":{"type":"rule","stroke":"#cfcfcf","strokeWidth":1},"encoding":{"x2":{"field":"x2"}}},
{"data":{"values":[{"x":37.4,"y":804,"y2":819},{"x":77,"y":804,"y2":819},{"x":118,"y":804,"y2":819},{"x":159,"y":804,"y2":819},{"x":200.7,"y":804,"y2":819},{"x":245,"y":804,"y2":819},{"x":284.5,"y":804,"y2":819},{"x":323,"y":804,"y2":819},{"x":361.6,"y":804,"y2":819},{"x":966,"y":804,"y2":819},{"x":1005,"y":804,"y2":819},{"x":1041,"y":804,"y2":819},{"x":1082,"y":804,"y2":819},{"x":1130.6,"y":804,"y2":819}]},"mark":{"type":"rule","stroke":"#d4d8dc","strokeWidth":1},"encoding":{"y2":{"field":"y2"}}},
{"data":{"values":[{"x":21,"y":811,"t":"1d"},{"x":58,"y":811,"t":"5d"},{"x":98,"y":811,"t":"1m"},{"x":138.5,"y":811,"t":"3m"},{"x":179,"y":811,"t":"6m"},{"x":223,"y":811,"t":"YTD"},{"x":266.5,"y":811,"t":"1y"},{"x":304,"y":811,"t":"5y"},{"x":343,"y":811,"t":"All"},{"x":394,"y":811,"t":"Go to..."},{"x":915,"y":811,"t":"13:17:27 (UTC)"},{"x":987,"y":811,"t":"ext"},{"x":1023.5,"y":811,"t":"%"},{"x":1057,"y":811,"t":"log"}]},"mark":{"type":"text","font":"Liberation Sans","fontSize":11,"fill":"#66707a","align":"center","baseline":"middle"},"encoding":{"text":{"field":"t"}}},
{"data":{"values":[{"x":1106.6,"y":811,"t":"auto"}]},"mark":{"type":"text","font":"Liberation Sans","fontSize":11,"fill":"#4ea4dc","align":"center","baseline":"middle"},"encoding":{"text":{"field":"t"}}},
{"data":{"values":[{"x":1151,"y":811,"t":"⚙"}]},"mark":{"type":"text","font":"DejaVu Sans","fontSize":17,"fill":"#888888","align":"center","baseline":"middle"},"encoding":{"text":{"field":"t"}}}
]}
]}
